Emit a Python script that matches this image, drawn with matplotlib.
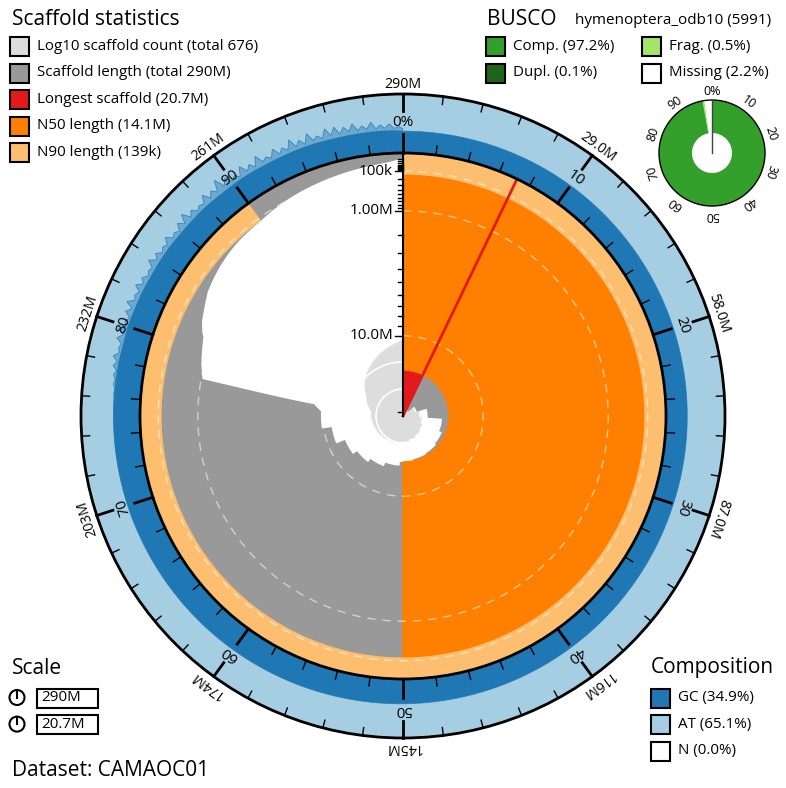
import numpy as np
import matplotlib.pyplot as plt
from matplotlib.patches import Rectangle, Circle

plt.rcParams['font.family'] = ['Open Sans', 'DejaVu Sans']

# assembly summary (lengths in Mb)
total_len = 290.0
longest = 20.7
n50 = 14.1
n90 = 0.139
n_scaffolds = 676

# chromosome-scale scaffolds, largest first (Mb)
big_scaffolds = [20.7, 19.6, 18.5, 17.0, 15.0, 14.6, 14.4, 14.3, 14.1,
                 13.6, 13.1, 12.6, 12.0, 10.9, 9.8]

# tail of the distribution: % of assembly, scaffold length (Mb), scaffolds so far
tail_pct = [75.9, 77.1, 77.9, 79, 80, 81, 81.3, 82, 83, 84, 85, 86, 87, 88, 89, 90,
            91, 92, 93, 94, 95, 96, 97, 98, 99, 100]
tail_len = [9.8, 9.0, 1.05, 0.9, 0.8, 0.7, 0.62, 0.5, 0.4, 0.3, 0.25, 0.21, 0.18, 0.16,
            0.15, 0.139, 0.115, 0.097, 0.083, 0.072, 0.062, 0.052, 0.043, 0.034,
            0.024, 0.008]
tail_count = [15, 16, 17, 20, 24, 28, 29, 31, 36, 45, 56, 70, 86, 104, 124, 144,
              170, 200, 234, 272, 315, 365, 422, 488, 570, 676]

# GC content along the assembly (fraction): position %, mean, min
gc_pct = [0, 10, 20, 30, 40, 50, 60, 70, 76, 77, 78, 79, 80, 81, 82, 83, 84, 85,
          86, 87, 88, 89, 90, 91, 92, 93, 94, 95, 96, 97, 98, 99, 100]
gc_mean = [0.37, 0.37, 0.36, 0.36, 0.39, 0.42, 0.44, 0.45, 0.45, 0.45, 0.45, 0.44,
           0.45, 0.44, 0.44, 0.43, 0.43, 0.43, 0.42, 0.42, 0.42, 0.41, 0.41, 0.41,
           0.40, 0.40, 0.40, 0.40, 0.39, 0.39, 0.39, 0.39, 0.38]
gc_min = [0.37, 0.37, 0.36, 0.36, 0.39, 0.42, 0.44, 0.45, 0.44, 0.42, 0.43, 0.41,
          0.42, 0.41, 0.40, 0.40, 0.39, 0.40, 0.38, 0.39, 0.38, 0.37, 0.38, 0.37,
          0.36, 0.37, 0.36, 0.37, 0.35, 0.36, 0.35, 0.36, 0.35]
# GC maximum in the small-scaffold tail, every 0.25% from 76% to 100%
spike_pct = list(np.arange(76, 100.01, 0.25))
spike_max = [0.45, 0.46, 0.45, 0.48, 0.46, 0.50, 0.46, 0.53, 0.47, 0.56, 0.47, 0.50,
             0.47, 0.57, 0.48, 0.59, 0.48, 0.52, 0.47, 0.57, 0.48, 0.61, 0.49, 0.53,
             0.48, 0.59, 0.48, 0.55, 0.47, 0.51, 0.48, 0.60, 0.48, 0.56, 0.47, 0.52,
             0.48, 0.58, 0.47, 0.51, 0.46, 0.57, 0.47, 0.62, 0.47, 0.55, 0.46, 0.51,
             0.47, 0.60, 0.47, 0.56, 0.47, 0.66, 0.48, 0.58, 0.46, 0.52, 0.45, 0.60,
             0.46, 0.54, 0.45, 0.61, 0.46, 0.51, 0.45, 0.58, 0.45, 0.53, 0.45, 0.61,
             0.45, 0.54, 0.44, 0.60, 0.45, 0.51, 0.44, 0.59, 0.45, 0.58, 0.44, 0.54,
             0.45, 0.57, 0.44, 0.51, 0.44, 0.55, 0.43, 0.49, 0.43, 0.50, 0.42, 0.45,
             0.41]

busco_labels = ['Comp. (97.2%)', 'Dupl. (0.1%)', 'Frag. (0.5%)', 'Missing (2.2%)']
busco_values = [97.1, 0.1, 0.5, 2.2]
busco_colors = ['#33a02c', '#20641c', '#a3e46b', '#ffffff']

comp_labels = ['GC (34.9%)', 'AT (65.1%)', 'N (0.0%)']
comp_colors = ['#1f78b4', '#a6cee3', '#ffffff']

stat_labels = ['Log10 scaffold count (total 676)', 'Scaffold length (total 290M)',
               'Longest scaffold (20.7M)', 'N50 length (14.1M)', 'N90 length (139k)']
stat_colors = ['#dddddd', '#999999', '#e31a1c', '#ff7f00', '#fdbf6f']

CX, CY = 403, 416
R_IN, R_OUT = 263, 322
W = R_OUT - R_IN
COUNT_K = 27   # px per decade of scaffold count
FS_T, FS_L = 15, 10.9


def xy(p, r, cx=CX, cy=CY):
    t = np.asarray(p) / 100 * 2 * np.pi
    return cx + np.asarray(r) * np.sin(t), cy - np.asarray(r) * np.cos(t)


def r_len(L):
    return R_IN * (1 - np.sqrt(np.asarray(L) / longest))


def band(p, r0, r1, cx=CX, cy=CY, **kw):
    p = np.asarray(p, dtype=float)
    r0 = np.broadcast_to(r0, p.shape)
    r1 = np.broadcast_to(r1, p.shape)
    x0, y0 = xy(p, r0, cx, cy)
    x1, y1 = xy(p[::-1], r1[::-1], cx, cy)
    return ax.fill(np.r_[x0, x1], np.r_[y0, y1], **kw)


fig = plt.figure(figsize=(7.86, 7.88), dpi=100)
ax = fig.add_axes([0, 0, 1, 1])
ax.set_xlim(0, 786)
ax.set_ylim(788, 0)
ax.axis('off')

# per-position length and count
p = np.linspace(0, 100, 5001)
big = np.array(big_scaffolds)
cum = np.cumsum(big) / total_len * 100
idx = np.searchsorted(cum, p, side='right')
in_big = p < tail_pct[0]
L = np.where(in_big, big[np.minimum(idx, len(big) - 1)], np.interp(p, tail_pct, tail_len))
cnt = np.where(in_big, idx + 1, np.interp(p, tail_pct, tail_count))

# log10 scaffold count spiral
xc, yc = xy(p, COUNT_K * np.log10(cnt))
ax.fill(np.r_[CX, xc], np.r_[CY, yc], color='#dddddd', lw=0)
for k in [1, 2]:
    ax.add_patch(Circle((CX, CY), COUNT_K * k, fill=False, ec='white', lw=1.2))

# scaffold length
band(p, r_len(L), R_IN, color='#999999', lw=0)

# longest, N50, N90
p_long = longest / total_len * 100
band(np.linspace(0, p_long, 200), 0, R_IN, color='#e31a1c', lw=0)
band(np.linspace(0, 50, 400), r_len(n50), R_IN, fc='#ff7f00', ec='#ff7f00', lw=1)
band(np.linspace(0, 90, 600), r_len(n90), R_IN, color='#fdbf6f', lw=0)
for v in [0.1, 1, 10]:
    ax.add_patch(Circle((CX, CY), r_len(v), fill=False, ec='white', alpha=0.55,
                        lw=1, ls=(0, (6, 5))))
lx, ly = xy([p_long, p_long], [0, R_IN])
ax.plot(lx, ly, color='#e31a1c', lw=2)

# composition ring
band(np.linspace(0, 100, 800), R_IN, R_OUT, color='#a6cee3', lw=0)
gp = np.linspace(0, 100, 5001)
gm = np.interp(gp, gc_pct, gc_mean)
gmin = np.interp(gp, gc_pct, gc_min)
gmax = np.maximum(gm, np.interp(gp, spike_pct, spike_max, left=0))
band(gp, R_IN, R_IN + gm * W, color='#1f78b4', lw=0)
band(gp, R_IN + gmin * W, R_IN + gmax * W, fc='#1f78b4', alpha=0.42, lw=0)
sx, sy = xy(gp, R_IN + gmax * W)
ax.plot(sx, sy, color='#1f78b4', lw=0.6, alpha=0.8)
ax.add_patch(Circle((CX, CY), R_IN, fill=False, ec='black', lw=2, zorder=5))
ax.add_patch(Circle((CX, CY), R_OUT, fill=False, ec='black', lw=2, zorder=5))

# angular ticks and labels
for i in range(0, 100, 2):
    major = i % 10 == 0
    tx, ty = xy([i, i], [R_IN, R_IN + (19 if major else 9)])
    ax.plot(tx, ty, color='black', lw=2 if major else 1, zorder=5)
    tx, ty = xy([i, i], [R_OUT, R_OUT - (17 if major else 8)])
    ax.plot(tx, ty, color='black', lw=2 if major else 1, zorder=5)
    if major:
        lab = '0%' if i == 0 else str(i)
        x, y = xy(i, 294)
        ax.text(x, y, lab, fontsize=11, ha='center', va='center', rotation=-i * 3.6,
                rotation_mode='anchor', zorder=6)
        v = total_len * (i if i else 100) / 100
        lab = f'{v:.1f}M' if v < 100 else f'{v:.0f}M'
        x, y = xy(i, 332)
        ax.text(x, y, lab, fontsize=10.2, ha='center', va='center', rotation=-i * 3.6,
                rotation_mode='anchor', zorder=6)

# radial length axis
ax.plot([CX, CX], [CY, CY - R_IN], color='black', lw=1.5, zorder=6)
for v in [0.01, 0.02, 0.03, 0.04, 0.05, 0.06, 0.07, 0.08, 0.09,
          0.1, 0.2, 0.3, 0.4, 0.5, 0.6, 0.7, 0.8, 0.9,
          1, 2, 3, 4, 5, 6, 7, 8, 9, 10, 20]:
    y = CY - r_len(v)
    major = v in (0.1, 1, 10)
    ax.plot([CX - (8 if major else 5), CX], [y, y], color='black', lw=1, zorder=6)
for v, lab in [(0.1, '100k'), (1, '1.00M'), (10, '10.0M')]:
    ax.text(CX - 10, CY - r_len(v), lab, fontsize=11, ha='right', va='center', zorder=6)

# BUSCO donut
BX, BY, BR, BRI = 712, 153, 53, 20
start = 0
for val, col in zip(busco_values, busco_colors):
    band(np.linspace(start, start + val, 200), BRI, BR, BX, BY, color=col, lw=0)
    start += val
ax.add_patch(Circle((BX, BY), BR, fill=False, ec='black', lw=1))
ax.plot([BX, BX], [BY, BY - BR], color='#444444', lw=1)
for i in range(0, 100, 10):
    x, y = xy(i, 62, BX, BY)
    ax.text(x, y, '0%' if i == 0 else str(i), fontsize=9, ha='center', va='center',
            rotation=-i * 3.6, rotation_mode='anchor')


# legends
def box(x, y, col):
    ax.add_patch(Rectangle((x, y - 9), 19, 19, fc=col, ec='black', lw=1.5))


ax.text(12, 19, 'Scaffold statistics', fontsize=FS_T, va='center')
for i, (lab, col) in enumerate(zip(stat_labels, stat_colors)):
    y = 46 + i * 26.6
    box(10, y, col)
    ax.text(37, y, lab, fontsize=FS_L, va='center')

ax.text(487, 19, 'BUSCO', fontsize=FS_T, va='center')
ax.text(575, 20, 'hymenoptera_odb10 (5991)', fontsize=11, va='center')
for i, (lab, col) in enumerate(zip(busco_labels, busco_colors)):
    x = 486 + (i // 2) * 156
    y = 46 + (i % 2) * 26.6
    box(x, y, col)
    ax.text(x + 27, y, lab, fontsize=FS_L, va='center')

ax.text(651, 668, 'Composition', fontsize=FS_T, va='center')
for i, (lab, col) in enumerate(zip(comp_labels, comp_colors)):
    y = 697.5 + i * 26.6
    box(651, y, col)
    ax.text(678, y, lab, fontsize=FS_L, va='center')

ax.text(12, 669, 'Scale', fontsize=FS_T, va='center')
for i, lab in enumerate([f'{total_len:.0f}M', f'{longest}M']):
    y = 697.5 + i * 26.6
    ax.add_patch(Circle((17, y), 7.5, fill=False, ec='black', lw=1.5))
    ax.plot([17, 17], [y, y - 7.5], color='black', lw=1.5)
    ax.add_patch(Rectangle((37, y - 9), 61, 19, fill=False, ec='black', lw=1.5))
    ax.text(41, y, lab, fontsize=FS_L, va='center')

ax.text(12, 771, 'Dataset: CAMAOC01', fontsize=FS_T, va='center')

fig.savefig('out.png', dpi=100)
